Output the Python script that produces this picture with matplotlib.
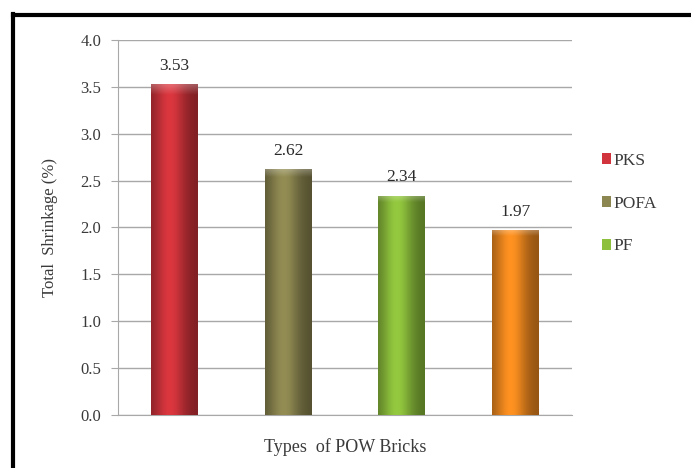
import numpy as np
import matplotlib.pyplot as plt
from matplotlib.patches import Patch
from matplotlib.lines import Line2D
from matplotlib.colors import to_rgb

# Total shrinkage of the POW brick types
bricks = ['PKS', 'POFA', 'PF', '']
shrinkage = [3.53, 2.62, 2.34, 1.97]
colors = ['#d1343c', '#8c8650', '#8dc03c', '#f38b1f']
legend_names = ['PKS', 'POFA', 'PF']
yticks = [0.0, 0.5, 1.0, 1.5, 2.0, 2.5, 3.0, 3.5, 4.0]

plt.rcParams['font.family'] = ['Liberation Serif', 'DejaVu Serif']

fig = plt.figure(figsize=(6.91, 4.68), dpi=100)
fig.patch.set_facecolor('white')

# black frame along the top and left edge
fig.add_artist(Line2D([12.5 / 691, 691 / 691], [1 - 15 / 468, 1 - 15 / 468],
                      color='black', lw=3, transform=fig.transFigure))
fig.add_artist(Line2D([13.5 / 691, 13.5 / 691], [1 - 14 / 468, 0],
                      color='black', lw=3, transform=fig.transFigure))

ax = fig.add_axes([118 / 691, 1 - 415 / 468, 454 / 691, 375 / 468])
x = np.arange(len(shrinkage))
bars = ax.bar(x, shrinkage, width=0.41, color=colors, zorder=3)


def shade(c):
    # cylinder-like shading across the bar, lighter cap on top
    base = np.array(to_rgb(c))
    nx, ny = 60, 200
    u = np.linspace(0, 1, nx)
    prof = 0.6 + 0.45 * np.exp(-((u - 0.4) / 0.33) ** 2)
    img = np.ones((ny, nx, 3)) * base
    img = img * prof[None, :, None]
    top = np.linspace(0, 1, ny)
    cap = np.clip((top - 0.97) / 0.03, 0, 1)
    img = img * (1 - 0.25 * cap[:, None, None]) + 0.25 * cap[:, None, None]
    return np.clip(img, 0, 1)


for b, c in zip(bars, colors):
    x0, y0 = b.get_x(), b.get_y()
    w, h = b.get_width(), b.get_height()
    im = ax.imshow(shade(c), extent=[x0, x0 + w, y0, y0 + h], origin='lower',
                   aspect='auto', zorder=4, interpolation='bilinear')
    im.set_clip_path(b)
    ax.text(x0 + w / 2, y0 + h + 0.11, f'{h:.2f}', ha='center', va='bottom',
            fontsize=12.5, color='#2a2a2a', zorder=5)

ax.set_xlim(-0.5, len(shrinkage) - 0.5)
ax.set_ylim(0, 4.0)
ax.set_yticks(yticks)
ax.set_yticklabels([f'{t:.1f}' for t in yticks], fontsize=12, color='#3a3a3a')
ax.set_xticks([])
ax.grid(axis='y', color='#a8a8a8', lw=1.0, zorder=0)
for s in ['top', 'right']:
    ax.spines[s].set_visible(False)
ax.spines['left'].set_color('#a8a8a8')
ax.spines['bottom'].set_color('#a8a8a8')
ax.tick_params(axis='y', length=5, color='#a8a8a8', pad=7)

ax.set_ylabel('Total  Shrinkage (%)', fontsize=12, color='#3a3a3a', labelpad=16)
ax.set_xlabel('Types  of POW Bricks', fontsize=13, color='#3a3a3a', labelpad=17)

handles = [Patch(facecolor=c, edgecolor='none') for c in colors[:3]]
fig.legend(handles, legend_names, loc='upper left', bbox_to_anchor=(586 / 691, 1 - 137 / 468),
           frameon=False, fontsize=12.5, handlelength=0.55, handleheight=0.55,
           handletextpad=0.15, labelspacing=1.55, labelcolor='#3a3a3a')

fig.savefig('out.png', dpi=100)
